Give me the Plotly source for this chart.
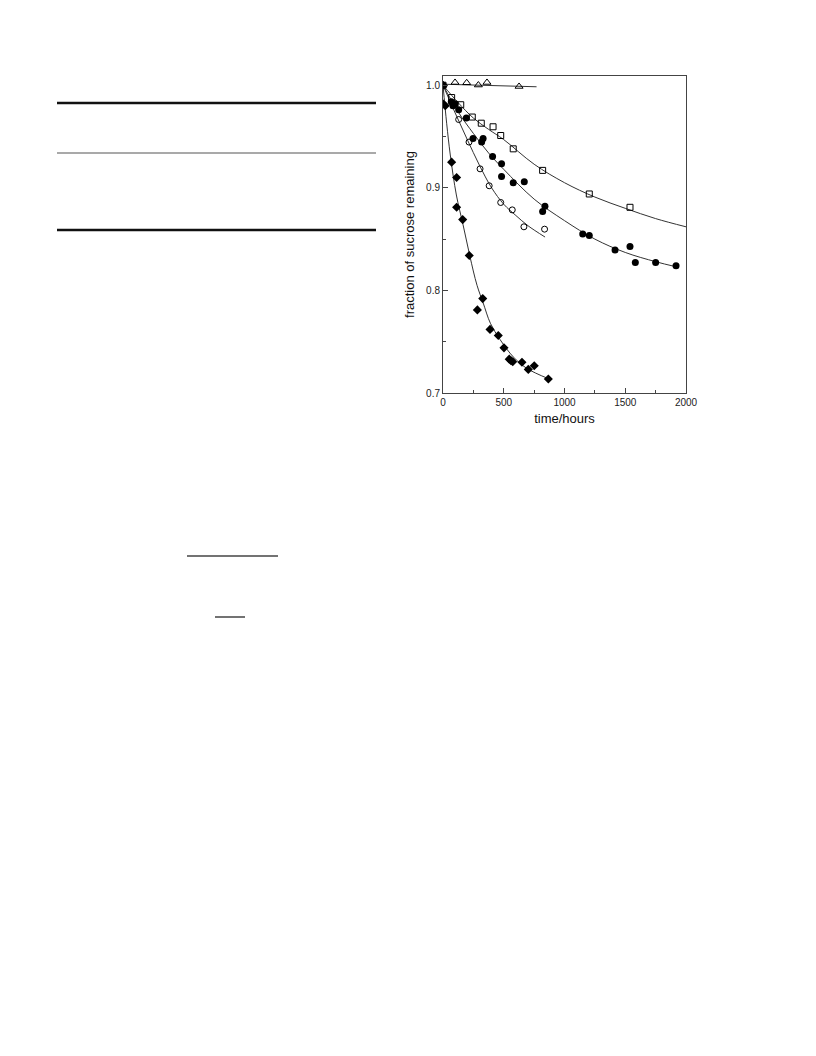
import plotly.graph_objects as go

# ---- data ----
tri_t = [0, 99, 195, 291, 362, 626]
tri_y = [1.000, 1.0027, 1.0024, 1.0002, 1.0027, 0.9988]
tri_fit_t = [0, 770]
tri_fit_y = [1.001, 0.9985]

sq_t = [0, 71, 146, 241, 315, 412, 475, 578, 820, 1204, 1539]
sq_y = [1.000, 0.988, 0.981, 0.969, 0.963, 0.9595, 0.951, 0.938, 0.917, 0.894, 0.881]
sq_fit_t = [0, 125, 250, 375, 500, 750, 1000, 1250, 1500, 1750, 2000]
sq_fit_y = [1.000, 0.983, 0.968, 0.957, 0.947, 0.923, 0.905, 0.891, 0.880, 0.870, 0.862]

fc_t = [0, 68, 82, 101, 129, 192, 247, 318, 330, 408, 482, 482, 578, 669,
        820, 839, 1150, 1204, 1416, 1539, 1583, 1750, 1918]
fc_y = [1.000, 0.984, 0.980, 0.982, 0.976, 0.968, 0.948, 0.9446, 0.948, 0.9305,
        0.9234, 0.911, 0.905, 0.906, 0.877, 0.882, 0.855, 0.8535, 0.8395, 0.8427,
        0.8271, 0.8271, 0.824]
fc_fit_t = [0, 125, 250, 375, 500, 750, 1000, 1250, 1500, 1750, 1920]
fc_fit_y = [1.000, 0.974, 0.953, 0.934, 0.918, 0.889, 0.868, 0.850, 0.837, 0.828, 0.823]

oc_t = [0, 129, 214, 305, 380, 475, 570, 666, 836]
oc_y = [1.000, 0.9666, 0.9446, 0.9185, 0.902, 0.8857, 0.8785, 0.862, 0.8597]
oc_fit_t = [0, 100, 200, 300, 400, 500, 600, 700, 840]
oc_fit_y = [1.000, 0.973, 0.947, 0.922, 0.900, 0.884, 0.873, 0.863, 0.852]

di_t = [0, 0, 19, 71, 112, 112, 162, 216, 283, 327, 387, 455, 502, 545, 560,
        574, 650, 702, 751, 867]
di_y = [1.000, 0.982, 0.980, 0.925, 0.910, 0.881, 0.869, 0.834, 0.781, 0.792,
        0.762, 0.756, 0.744, 0.733, 0.7315, 0.7305, 0.730, 0.723, 0.7266, 0.7137]
di_fit_t = [0, 30, 60, 110, 165, 220, 280, 330, 390, 470, 580, 690, 867]
di_fit_y = [1.000, 0.963, 0.932, 0.893, 0.864, 0.834, 0.805, 0.788, 0.768,
            0.752, 0.735, 0.724, 0.714]

x_ticks = [0, 500, 1000, 1500, 2000]
y_ticks = [0.7, 0.8, 0.9, 1.0]
y_tick_labels = ["0.7", "0.8", "0.9", "1.0"]

# ---- figure ----
fig = go.Figure()
line_style = dict(color="#333333", width=1)

for ft, fy in [(tri_fit_t, tri_fit_y), (sq_fit_t, sq_fit_y), (fc_fit_t, fc_fit_y),
               (oc_fit_t, oc_fit_y), (di_fit_t, di_fit_y)]:
    fig.add_trace(go.Scatter(x=ft, y=fy, mode="lines", line=dict(shape="spline", **line_style),
                             showlegend=False, hoverinfo="skip"))

fig.add_trace(go.Scatter(x=tri_t, y=tri_y, mode="markers",
                         marker=dict(symbol="triangle-up-open", size=7, color="black",
                                     line=dict(width=1)), showlegend=False))
fig.add_trace(go.Scatter(x=sq_t, y=sq_y, mode="markers",
                         marker=dict(symbol="square-open", size=6, color="black",
                                     line=dict(width=1)), showlegend=False))
fig.add_trace(go.Scatter(x=oc_t, y=oc_y, mode="markers",
                         marker=dict(symbol="circle-open", size=6, color="black",
                                     line=dict(width=1)), showlegend=False))
fig.add_trace(go.Scatter(x=fc_t, y=fc_y, mode="markers",
                         marker=dict(symbol="circle", size=7, color="black"), showlegend=False))
fig.add_trace(go.Scatter(x=di_t, y=di_y, mode="markers",
                         marker=dict(symbol="diamond", size=7, color="black"), showlegend=False))

axis_common = dict(showline=True, linecolor="#444444", linewidth=1, mirror=True,
                   ticks="inside", ticklen=5, tickwidth=1, tickcolor="#444444",
                   showgrid=False, zeroline=False,
                   tickfont=dict(family="Liberation Sans, Arial, sans-serif", size=10, color="#222222"))

fig.update_xaxes(range=[0, 2000], tickvals=x_ticks,
                 minor=dict(ticks="inside", ticklen=3, dtick=250, tickcolor="#444444", showgrid=False),
                 title=dict(text="time/hours", standoff=6,
                            font=dict(family="Liberation Sans, Arial, sans-serif", size=13, color="#111111")),
                 **axis_common)
fig.update_yaxes(range=[0.7, 1.009], tickvals=y_ticks, ticktext=y_tick_labels,
                 minor=dict(ticks="inside", ticklen=3, dtick=0.05, tickcolor="#444444", showgrid=False),
                 title=dict(text="fraction of sucrose remaining", standoff=8,
                            font=dict(family="Liberation Sans, Arial, sans-serif", size=13, color="#111111")),
                 **axis_common)

# page rules outside the plot (pixel -> paper conversion)
L, R, T, B = 443, 686, 76, 393
OFF = 8  # page body margin
def px(x):
    return (x - L) / (R - L)
def py(y):
    return (B - y) / (B - T)

rules = [(57, 376, 103, 2.7, "#111111"), (57, 376, 153, 1.2, "#555555"),
         (57, 376, 230, 2.5, "#111111"), (187, 278, 556, 1.5, "#444444"),
         (215, 245, 617, 1.5, "#444444")]
for x0, x1, yy, w, c in rules:
    fig.add_shape(type="line", xref="paper", yref="paper", x0=px(x0), x1=px(x1),
                  y0=py(yy), y1=py(yy), line=dict(color=c, width=w))

W, H = 816, 1056
fig.update_layout(width=W, height=H, plot_bgcolor="white", paper_bgcolor="white",
                  margin=dict(l=L - OFF, r=W - (R - OFF) - 0, t=T - OFF, b=H - (B - OFF)),
                  showlegend=False)

fig.write_html("out.html")
